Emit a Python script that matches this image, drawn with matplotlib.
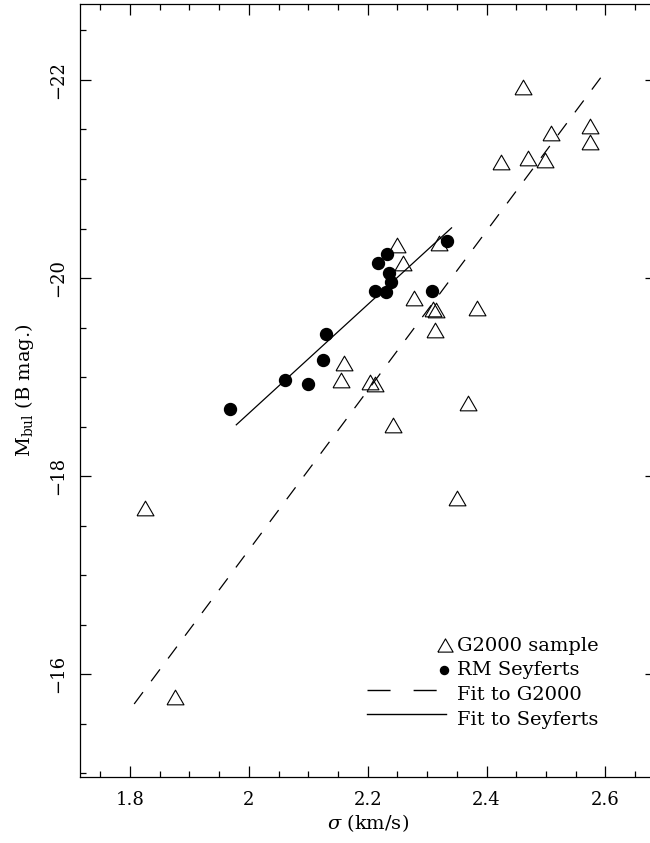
import numpy as np
import matplotlib
matplotlib.use("Agg")
import matplotlib.pyplot as plt
from matplotlib.ticker import MultipleLocator, FuncFormatter

plt.rcParams['font.family'] = ['DejaVu Serif']
plt.rcParams['mathtext.fontset'] = 'dejavuserif'

# G2000 sample (log sigma, M_bul)
g2000_sigma = [2.462, 2.574, 2.574, 2.509, 2.424, 2.470, 2.498, 2.2485, 2.2597, 2.320,
               2.278, 2.309, 2.3146, 2.383, 2.313, 2.160, 2.1546, 2.204, 2.2124, 2.3693,
               2.2423, 2.351, 1.8254, 1.8757]
g2000_mag = [-21.926, -21.536, -21.371, -21.468, -21.169, -21.216, -21.192, -20.334, -20.149, -20.351,
             -19.796, -19.685, -19.678, -19.695, -19.476, -19.14, -18.971, -18.948, -18.931, -18.736,
             -18.517, -17.783, -17.682, -15.774]

# reverberation-mapped Seyferts
sey_sigma = [2.3326, 2.2327, 2.2176, 2.2356, 2.2385, 2.212, 2.2305, 2.3074, 2.1296,
             2.124, 2.0604, 2.0994, 1.9683]
sey_mag = [-20.378, -20.243, -20.155, -20.048, -19.964, -19.873, -19.863, -19.873, -19.436,
           -19.173, -18.971, -18.928, -18.678]

# fits: M = a + b * (sigma - 2.2), drawn over the given sigma range
fit_g2000 = {'a': -18.866, 'b': -8.055, 'range': (1.807, 2.604)}
fit_sey = {'a': -19.733, 'b': -5.49, 'range': (1.9788, 2.341)}

tri = [(-1, -0.866), (1, -0.866), (0, 0.866), (-1, -0.866)]

fig = plt.figure(figsize=(6.5, 8.43), dpi=100)
ax = fig.add_axes([79.5 / 650, 1 - 777.3 / 843, 576.5 / 650, 773.3 / 843])

for fit, ls in [(fit_g2000, (0, (11.8, 10.9))), (fit_sey, '-')]:
    xs = np.array(fit['range'])
    ax.plot(xs, fit['a'] + fit['b'] * (xs - 2.2), color='black', lw=0.9, linestyle=ls)

ax.plot(g2000_sigma, g2000_mag, linestyle='none', marker=tri, ms=12.2,
        mfc='none', mec='black', mew=0.8)
ax.plot(sey_sigma, sey_mag, linestyle='none', marker='o', ms=8.6,
        mfc='black', mec='black')

ax.set_xlim(1.715, 2.685)
ax.set_ylim(-14.96, -22.767)

ax.xaxis.set_major_locator(MultipleLocator(0.2))
ax.xaxis.set_minor_locator(MultipleLocator(0.05))
ax.yaxis.set_major_locator(MultipleLocator(2))
ax.yaxis.set_minor_locator(MultipleLocator(0.5))
ax.xaxis.set_major_formatter(FuncFormatter(lambda v, p: '%g' % round(v, 2)))
ax.yaxis.set_major_formatter(FuncFormatter(lambda v, p: ('%g' % round(v, 2)).replace('-', '\u2212')))

ax.tick_params(which='both', direction='in', top=True, right=True, width=0.9, labelsize=13)
ax.tick_params(which='major', length=8)
ax.tick_params(which='minor', length=4.3)
ax.tick_params(axis='x', pad=10)
ax.tick_params(axis='y', pad=9, labelrotation=90)
plt.setp(ax.get_yticklabels(), va='center')
for s in ax.spines.values():
    s.set_linewidth(0.9)

ax.set_xlabel(r'$\sigma$ (km/s)', fontsize=14, labelpad=2)
ax.set_ylabel(r'M$_{\rm bul}$ (B mag.)', fontsize=14, labelpad=9)

# legend drawn by hand
tf = ax.transAxes
ax.plot([0.634], [0.1715], transform=tf, marker=tri, ms=11, mfc='none', mec='black', mew=0.8)
ax.plot([0.6314], [0.1388], transform=tf, marker='o', ms=5.8, mfc='black', mec='black')
ax.plot([0.4987, 0.6218], [0.1129, 0.1129], transform=tf, color='black', lw=1.0,
        linestyle=(0, (16.6, 16.6)))
ax.plot([0.4987, 0.6357], [0.0815, 0.0815], transform=tf, color='black', lw=1.0)
labels = ['G2000 sample', 'RM Seyferts', 'Fit to G2000', 'Fit to Seyferts']
for lab, yb in zip(labels, [0.1637, 0.1319, 0.1000, 0.0680]):
    ax.text(0.6548, yb, lab, transform=tf, fontsize=14, va='baseline', ha='left')

fig.savefig('out.png', dpi=100)
